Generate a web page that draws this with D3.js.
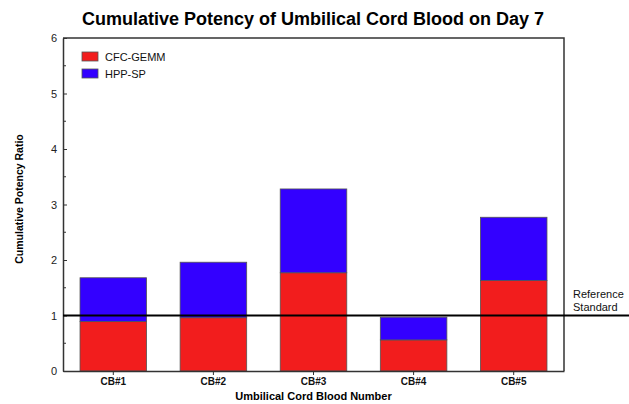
<!DOCTYPE html>
<html>
<head>
<meta charset="utf-8">
<script src="https://cdn.jsdelivr.net/npm/d3@7"></script>
<style>
  body { margin: 0; background: #fff; }
  text { font-family: "Liberation Sans", Arial, sans-serif; }
</style>
</head>
<body>
<div id="chart"></div>
<script>
// data
var samples = ["CB#1", "CB#2", "CB#3", "CB#4", "CB#5"];
var cfcGemm = [0.89, 0.96, 1.77, 0.56, 1.63];
var hppSp = [0.79, 1.00, 1.51, 0.41, 1.14];
var seriesNames = ["CFC-GEMM", "HPP-SP"];
var seriesColors = ["#f21d1d", "#3300ff"];
var yTicks = [0, 1, 2, 3, 4, 5, 6];
var referenceValue = 1;

var svgWidth = 629;
var svgHeight = 404;

var margin = { top: 38, right: 65, bottom: 33, left: 63 };
var width = svgWidth - margin.left - margin.right;
var height = svgHeight - margin.top - margin.bottom;

var svg = d3.select("#chart")
    .append("svg")
    .attr("width", svgWidth)
    .attr("height", svgHeight);

var chartGroup = svg.append("g")
    .attr("transform", `translate(${margin.left}, ${margin.top})`);

// build stacked table
var table = samples.map(function(s, i) {
    return { sample: s, "CFC-GEMM": cfcGemm[i], "HPP-SP": hppSp[i] };
});
var stacked = d3.stack().keys(seriesNames)(table);

var xScale = d3.scaleBand()
    .domain(samples)
    .range([0, width])
    .paddingInner(0.335)
    .paddingOuter(0.17);

var yScale = d3.scaleLinear()
    .domain([0, 6])
    .range([height, 0]);

// bars
chartGroup.selectAll("g.series")
    .data(stacked)
    .enter()
    .append("g")
    .attr("class", "series")
    .attr("fill", (d, i) => seriesColors[i])
    .selectAll("rect")
    .data(d => d)
    .enter()
    .append("rect")
    .attr("x", d => xScale(d.data.sample))
    .attr("y", d => yScale(d[1]))
    .attr("width", xScale.bandwidth())
    .attr("height", d => yScale(d[0]) - yScale(d[1]))
    .attr("stroke", "#555")
    .attr("stroke-width", 0.8);

// frame (top and right)
chartGroup.append("path")
    .attr("d", `M0,0H${width}V${height}`)
    .attr("fill", "none")
    .attr("stroke", "#333")
    .attr("stroke-width", 1.5);

// y axis with inward ticks
var leftAxis = d3.axisLeft(yScale)
    .tickValues(yTicks)
    .tickFormat(d3.format("d"))
    .tickSizeInner(-4)
    .tickSizeOuter(0)
    .tickPadding(6);
var yAxisG = chartGroup.append("g").call(leftAxis);
yAxisG.select(".domain").attr("stroke", "#333").attr("stroke-width", 1.5);
yAxisG.selectAll(".tick line").attr("stroke", "#333");
yAxisG.selectAll(".tick text").attr("font-size", 11).attr("fill", "#222")
    .attr("font-family", "Liberation Sans, Arial, sans-serif");

// minor ticks
chartGroup.selectAll("line.minor")
    .data(d3.range(0.5, 6, 1))
    .enter()
    .append("line")
    .attr("class", "minor")
    .attr("x1", 0)
    .attr("x2", 3)
    .attr("y1", d => yScale(d))
    .attr("y2", d => yScale(d))
    .attr("stroke", "#333");

// x axis
var bottomAxis = d3.axisBottom(xScale)
    .tickSizeInner(4)
    .tickSizeOuter(0)
    .tickPadding(3);
var xAxisG = chartGroup.append("g")
    .attr("transform", `translate(0, ${height})`)
    .call(bottomAxis);
xAxisG.select(".domain").attr("stroke", "#333").attr("stroke-width", 1.5);
xAxisG.selectAll(".tick line").attr("stroke", "#333");
xAxisG.selectAll(".tick text")
    .attr("font-size", 10)
    .attr("font-weight", "bold")
    .attr("fill", "#111")
    .attr("font-family", "Liberation Sans, Arial, sans-serif");

// reference line
chartGroup.append("line")
    .attr("x1", 0)
    .attr("x2", svgWidth - margin.left)
    .attr("y1", yScale(referenceValue))
    .attr("y2", yScale(referenceValue))
    .attr("stroke", "#000")
    .attr("stroke-width", 2);

var refText = chartGroup.append("text")
    .attr("x", width + 9)
    .attr("y", yScale(referenceValue) - 18)
    .attr("font-size", 11)
    .attr("fill", "#111");
refText.append("tspan").attr("x", width + 9).text("Reference");
refText.append("tspan").attr("x", width + 9).attr("dy", 13).text("Standard");

// legend
var legend = chartGroup.selectAll("g.legend")
    .data(seriesNames)
    .enter()
    .append("g")
    .attr("class", "legend")
    .attr("transform", (d, i) => `translate(19, ${14 + i * 17})`);
legend.append("rect")
    .attr("width", 16)
    .attr("height", 9)
    .attr("fill", (d, i) => seriesColors[i])
    .attr("stroke", "#555")
    .attr("stroke-width", 0.8);
legend.append("text")
    .attr("x", 23)
    .attr("y", 8.5)
    .attr("font-size", 11)
    .attr("fill", "#111")
    .text(d => d);

// title
svg.append("text")
    .attr("x", 313)
    .attr("y", 25)
    .attr("text-anchor", "middle")
    .attr("font-size", 18)
    .attr("font-weight", "bold")
    .text("Cumulative Potency of Umbilical Cord Blood on Day 7");

// axis titles
svg.append("text")
    .attr("x", margin.left + width / 2)
    .attr("y", 400)
    .attr("text-anchor", "middle")
    .attr("font-size", 11)
    .attr("font-weight", "bold")
    .text("Umbilical Cord Blood Number");

svg.append("text")
    .attr("transform", "translate(23, 199) rotate(-90)")
    .attr("text-anchor", "middle")
    .attr("font-size", 10.5)
    .attr("font-weight", "bold")
    .text("Cumulative Potency Ratio");
</script>
</body>
</html>
